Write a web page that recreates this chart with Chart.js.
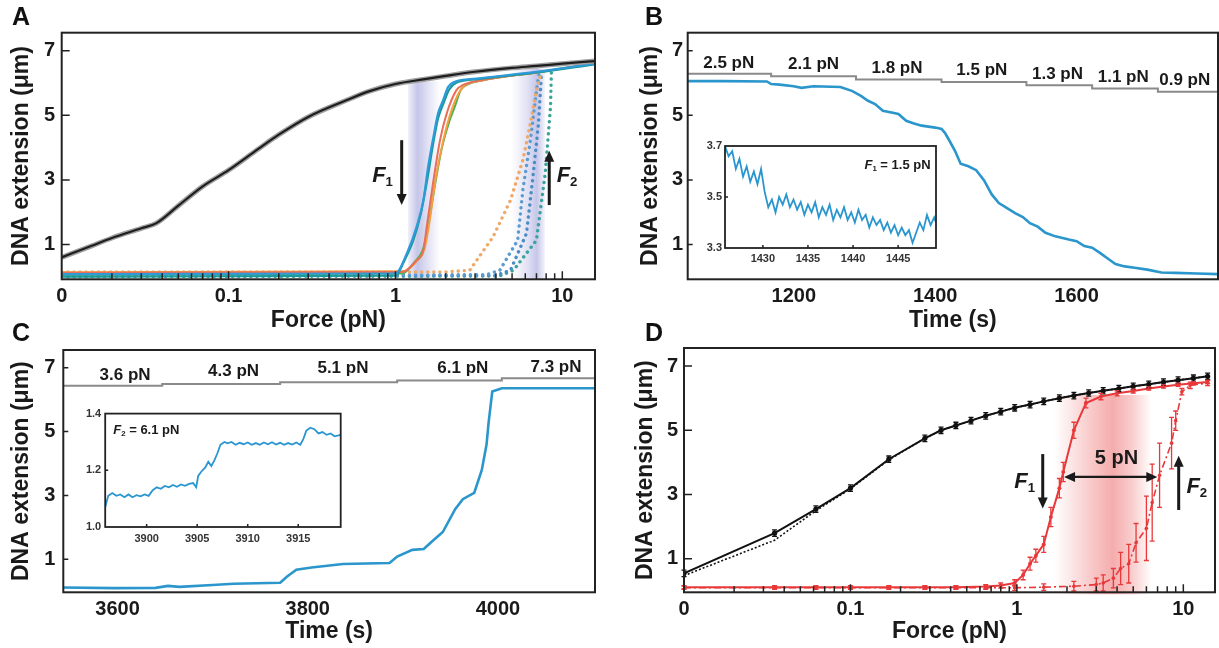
<!DOCTYPE html>
<html>
<head>
<meta charset="utf-8">
<script src="https://cdn.jsdelivr.net/npm/chart.js@4.4.1/dist/chart.umd.min.js"></script>
<style>
body { margin:0; background:#fff; width:1219px; height:648px; position:relative; overflow:hidden; font-family:"Liberation Sans", Arial, sans-serif; }
canvas { position:absolute; }
.tag { position:absolute; font-weight:bold; font-size:25px; line-height:25px; color:#111; }
</style>
</head>
<body>
<canvas id="chartA" style="left:0;top:0" width="610" height="340"></canvas>
<canvas id="chartB" style="left:610px;top:0" width="609" height="340"></canvas>
<canvas id="chartC" style="left:0;top:330px" width="610" height="318"></canvas>
<canvas id="chartD" style="left:610px;top:330px" width="609" height="318"></canvas>
<canvas id="insetB" style="left:698px;top:136px" width="248" height="132"></canvas>
<canvas id="insetC" style="left:75px;top:403px" width="276" height="146"></canvas>
<div class="tag" style="left:12px;top:4px">A</div>
<div class="tag" style="left:645px;top:4px">B</div>
<div class="tag" style="left:12px;top:320px">C</div>
<div class="tag" style="left:645px;top:320px">D</div>
<script>
// ---------- panel A : force-extension, single molecules ----------
const fA_ref = [0.01, 0.015, 0.02, 0.03, 0.037, 0.05, 0.07, 0.1, 0.15, 0.2, 0.3, 0.5, 0.7, 1, 1.5, 2, 3, 5, 7, 10, 15.6];
const zA_ref = [0.6, 0.95, 1.2, 1.5, 1.66, 2.2, 2.8, 3.3, 3.95, 4.4, 4.95, 5.45, 5.75, 5.97, 6.12, 6.22, 6.35, 6.47, 6.53, 6.6, 6.68];

const fA_blue = [0.01, 1.0, 1.17, 1.34, 1.47, 1.57, 1.69, 1.8, 1.93, 2.07, 2.27, 3.07, 7.0, 15.6];
const zA_blue = [0.08, 0.1, 0.72, 1.55, 2.37, 3.41, 4.34, 5.06, 5.47, 5.88, 6.04, 6.14, 6.35, 6.6];
const fA_teal = [0.01, 1.0, 1.12, 1.28, 1.42, 1.55, 1.68, 1.8, 1.95, 2.1, 2.3, 3.1, 7.0, 15.6];
const zA_teal = [0.0, 0.03, 0.45, 1.13, 1.96, 3.0, 4.1, 4.9, 5.4, 5.8, 6.0, 6.12, 6.33, 6.58];
const fA_red = [0.01, 1.1, 1.34, 1.47, 1.54, 1.69, 1.85, 2.03, 2.32, 2.54, 3.2, 7.0, 15.6];
const zA_red = [0.12, 0.15, 0.51, 0.82, 1.55, 2.99, 4.23, 5.06, 5.78, 5.94, 6.08, 6.33, 6.6];
const fA_green = [0.01, 1.1, 1.3, 1.45, 1.55, 1.72, 1.9, 2.1, 2.27, 2.46, 2.7, 3.3, 7.0, 15.6];
const zA_green = [0.06, 0.1, 0.45, 0.8, 1.4, 2.8, 4.0, 4.8, 5.27, 5.78, 5.95, 6.08, 6.33, 6.6];
const fA_orange = [0.01, 1.1, 1.35, 1.5, 1.6, 1.75, 1.95, 2.15, 2.4, 2.6, 3.3, 7.0, 15.6];
const zA_orange = [0.14, 0.17, 0.5, 0.9, 1.7, 3.1, 4.3, 5.1, 5.7, 5.92, 6.08, 6.33, 6.6];

// increasing force (dotted)
const fA_upOrange = [0.01, 2.0, 2.79, 3.85, 4.89, 5.8, 6.44, 7.0, 7.5];
const zA_upOrange = [0.15, 0.15, 0.2, 1.24, 2.37, 3.61, 4.75, 5.78, 6.35];
const fA_upBlue1 = [0.01, 3.5, 4.22, 5.4, 5.8, 6.44, 7.0, 7.3];
const zA_upBlue1 = [0.05, 0.06, 0.2, 1.13, 2.68, 4.23, 5.78, 6.35];
const fA_upBlue2 = [0.01, 4.0, 4.89, 6.1, 6.7, 7.2, 7.5];
const zA_upBlue2 = [0.03, 0.04, 0.2, 1.34, 3.2, 4.75, 6.3];
const fA_upTeal = [0.01, 4.2, 5.1, 7.0, 7.9, 8.5, 8.6];
const zA_upTeal = [0.0, 0.02, 0.2, 1.13, 3.2, 5.27, 6.35];

// ---------- panel B : extension vs time at decreasing force ----------
const tB = [1050, 1100, 1162, 1168, 1180, 1200, 1211, 1228, 1266, 1283, 1295, 1305, 1315, 1326, 1340, 1348, 1359, 1370, 1381, 1400, 1409, 1414, 1420, 1428, 1436, 1447, 1458, 1469, 1480, 1490, 1500, 1513, 1524, 1534, 1545, 1556, 1570, 1589, 1600, 1611, 1622, 1633, 1645, 1655, 1668, 1682, 1700, 1720, 1740, 1770, 1800];
const zB = [6.06, 6.06, 6.05, 5.97, 5.95, 5.9, 5.85, 5.9, 5.88, 5.75, 5.6, 5.45, 5.35, 5.14, 5.08, 5.04, 4.83, 4.75, 4.68, 4.62, 4.58, 4.45, 4.22, 3.9, 3.5, 3.42, 3.3, 2.99, 2.55, 2.28, 2.15, 1.97, 1.85, 1.66, 1.55, 1.36, 1.25, 1.15, 1.1, 0.95, 0.9, 0.74, 0.55, 0.39, 0.32, 0.28, 0.22, 0.13, 0.12, 0.1, 0.08];
const tB_force = [1050, 1168, 1288, 1409, 1529, 1622, 1715, 1800];
const zB_force = [6.29, 6.21, 6.11, 6.03, 5.93, 5.83, 5.73, 5.73];
const forceB_labels = ['2.5 pN', '2.1 pN', '1.8 pN', '1.5 pN', '1.3 pN', '1.1 pN', '0.9 pN'];
const forceB_t = [1108, 1228, 1346, 1466, 1573, 1666, 1753];
const forceB_z = [6.62, 6.57, 6.47, 6.39, 6.28, 6.18, 6.08];

const tB_in = [1425.8, 1426.2, 1426.6, 1427.0, 1427.4, 1427.8, 1428.2, 1428.6, 1429.0, 1429.4, 1429.8, 1430.2, 1430.6, 1431.0, 1431.4, 1431.8, 1432.2, 1432.6, 1433.0, 1433.4, 1433.8, 1434.2, 1434.6, 1435.0, 1435.4, 1435.8, 1436.2, 1436.6, 1437.0, 1437.4, 1437.8, 1438.2, 1438.6, 1439.0, 1439.4, 1439.8, 1440.2, 1440.6, 1441.0, 1441.4, 1441.8, 1442.2, 1442.6, 1443.0, 1443.4, 1443.8, 1444.2, 1444.6, 1445.0, 1445.4, 1445.8, 1446.2, 1446.6, 1447.0, 1447.4, 1447.8, 1448.2, 1448.6, 1449.0, 1449.2];
const zB_in = [3.70, 3.66, 3.68, 3.61, 3.65, 3.58, 3.62, 3.56, 3.60, 3.55, 3.61, 3.52, 3.46, 3.49, 3.44, 3.50, 3.47, 3.51, 3.46, 3.49, 3.45, 3.48, 3.43, 3.47, 3.44, 3.48, 3.42, 3.46, 3.43, 3.47, 3.41, 3.45, 3.42, 3.46, 3.41, 3.44, 3.40, 3.45, 3.41, 3.43, 3.38, 3.42, 3.39, 3.41, 3.37, 3.40, 3.36, 3.39, 3.35, 3.38, 3.35, 3.37, 3.32, 3.36, 3.40, 3.37, 3.43, 3.39, 3.42, 3.40];

// ---------- panel C : extension vs time at increasing force ----------
const tC = [3543, 3596, 3640, 3653, 3665, 3700, 3722, 3771, 3778, 3788, 3804, 3837, 3886, 3894, 3910, 3922, 3930, 3942, 3955, 3963, 3975, 3983, 3988, 3990, 3994, 4004, 4102];
const zC = [0.11, 0.09, 0.1, 0.16, 0.13, 0.19, 0.23, 0.26, 0.45, 0.67, 0.74, 0.85, 0.88, 1.08, 1.29, 1.32, 1.54, 1.85, 2.57, 2.88, 3.08, 3.8, 4.6, 5.24, 6.26, 6.36, 6.36];
const tC_force = [3543, 3647, 3771, 3894, 4004, 4102];
const zC_force = [6.44, 6.49, 6.55, 6.6, 6.67, 6.67];
const forceC_labels = ['3.6 pN', '4.3 pN', '5.1 pN', '6.1 pN', '7.3 pN'];
const forceC_t = [3608, 3722, 3837, 3963, 4061];
const forceC_z = [6.77, 6.88, 6.98, 6.98, 7.03];

const tC_in = [3895.9, 3896.2, 3896.6, 3897.0, 3897.4, 3897.8, 3898.2, 3898.6, 3899.0, 3899.4, 3899.8, 3900.2, 3900.6, 3901.0, 3901.4, 3901.8, 3902.2, 3902.6, 3903.0, 3903.4, 3903.8, 3904.2, 3904.6, 3904.9, 3905.1, 3905.4, 3905.8, 3906.1, 3906.4, 3906.7, 3907.0, 3907.3, 3907.7, 3908.0, 3908.4, 3908.8, 3909.2, 3909.6, 3910.0, 3910.4, 3910.8, 3911.2, 3911.6, 3912.0, 3912.4, 3912.8, 3913.2, 3913.6, 3914.0, 3914.4, 3914.8, 3915.2, 3915.5, 3915.8, 3916.2, 3916.6, 3917.0, 3917.4, 3917.8, 3918.2, 3918.6, 3919.2];
const zC_in = [1.07, 1.11, 1.12, 1.11, 1.115, 1.105, 1.115, 1.105, 1.112, 1.108, 1.115, 1.11, 1.13, 1.14, 1.135, 1.145, 1.14, 1.148, 1.142, 1.15, 1.145, 1.152, 1.155, 1.14, 1.18, 1.195, 1.21, 1.23, 1.215, 1.235, 1.26, 1.29, 1.30, 1.295, 1.30, 1.29, 1.297, 1.292, 1.298, 1.29, 1.296, 1.29, 1.298, 1.292, 1.299, 1.291, 1.297, 1.29, 1.296, 1.291, 1.298, 1.29, 1.31, 1.34, 1.35, 1.345, 1.33, 1.335, 1.325, 1.33, 1.32, 1.325];

// ---------- panel D : averaged force-extension ----------
const fD_bare = [0.01, 0.035, 0.062, 0.1, 0.17, 0.28, 0.35, 0.43, 0.53, 0.65, 0.8, 0.97, 1.2, 1.45, 1.8, 2.2, 2.7, 3.3, 4.1, 5.0, 6.2, 7.6, 9.3, 11.5, 14];
const zD_bareDown = [0.55, 1.8, 2.55, 3.2, 4.1, 4.75, 5.0, 5.15, 5.3, 5.45, 5.58, 5.7, 5.8, 5.9, 6.0, 6.08, 6.16, 6.23, 6.3, 6.37, 6.43, 6.5, 6.56, 6.62, 6.68];
const zD_bareUp = [0.48, 1.58, 2.5, 3.18, 4.08, 4.75, 5.0, 5.15, 5.3, 5.45, 5.58, 5.7, 5.8, 5.9, 6.0, 6.08, 6.16, 6.23, 6.3, 6.37, 6.43, 6.5, 6.56, 6.62, 6.68];
const fD_down = [0.01, 0.035, 0.062, 0.1, 0.17, 0.28, 0.43, 0.65, 0.8, 0.97, 1.09, 1.2, 1.3, 1.45, 1.6, 1.8, 1.9, 2.2, 2.6, 3.2, 4.0, 5.0, 6.2, 7.6, 9.3, 11.5, 14];
const zD_down = [0.12, 0.12, 0.12, 0.12, 0.12, 0.12, 0.12, 0.14, 0.17, 0.25, 0.5, 0.85, 1.1, 1.45, 2.3, 3.2, 3.7, 5.0, 5.85, 6.05, 6.15, 6.22, 6.3, 6.36, 6.42, 6.46, 6.5];
const eD_down = [0.05, 0.05, 0.05, 0.05, 0.05, 0.05, 0.05, 0.06, 0.08, 0.1, 0.15, 0.2, 0.2, 0.25, 0.3, 0.3, 0.3, 0.25, 0.15, 0.1, 0.08, 0.06, 0.05, 0.05, 0.05, 0.05, 0.05];
const fD_up = [0.01, 0.035, 0.062, 0.1, 0.17, 0.28, 0.43, 0.65, 0.97, 1.45, 2.2, 3.0, 3.3, 3.8, 4.2, 4.7, 5.2, 6.0, 6.5, 7.2, 8.5, 9.0, 9.8, 11, 14];
const zD_up = [0.1, 0.1, 0.1, 0.1, 0.1, 0.1, 0.1, 0.1, 0.1, 0.12, 0.15, 0.2, 0.25, 0.4, 0.7, 0.85, 1.5, 1.95, 2.75, 3.6, 4.6, 5.3, 6.2, 6.4, 6.47];
const eD_up = [0.05, 0.05, 0.05, 0.05, 0.05, 0.05, 0.05, 0.05, 0.08, 0.1, 0.15, 0.2, 0.25, 0.3, 0.5, 0.6, 0.6, 1.0, 1.2, 1.0, 0.8, 0.3, 0.1, 0.1, 0.08];

// shared axis ticks
const forceTicks = [0.01, 0.1, 1, 10];
const forceMinor = [0.02, 0.03, 0.04, 0.05, 0.06, 0.07, 0.08, 0.09, 0.2, 0.3, 0.4, 0.5, 0.6, 0.7, 0.8, 0.9, 2, 3, 4, 5, 6, 7, 8, 9];
const extTicks = [1, 3, 5, 7];

const FAM = '"Liberation Sans", Arial, sans-serif';
const INK = '#1a1a1a';

const pts = (xs, ys) => xs.map((v, i) => ({ x: v, y: ys[i] }));
function line(xs, ys, color, width, extra) {
    return Object.assign({ data: pts(xs, ys), borderColor: color, borderWidth: width, pointRadius: 0, fill: false, tension: 0 }, extra || {});
}

// extra drawing for each canvas, looked up by canvas id
const decor = {};

function richText(ctx, it, px, py) {
    const size = it.size;
    const parts = it.parts.map(p => {
        const s = p.sub ? size * 0.6 : size;
        const font = (p.italic ? 'italic ' : '') + 'bold ' + s + 'px ' + FAM;
        ctx.font = font;
        return { t: p.t, font: font, w: ctx.measureText(p.t).width, dy: p.sub ? size * 0.28 : 0 };
    });
    const total = parts.reduce((s, p) => s + p.w, 0);
    let cx = it.align === 'right' ? px - total : it.align === 'left' ? px : px - total / 2;
    ctx.textBaseline = 'middle';
    ctx.textAlign = 'left';
    ctx.fillStyle = it.color || INK;
    parts.forEach(p => { ctx.font = p.font; ctx.fillText(p.t, cx, py + p.dy); cx += p.w; });
}

function head(ctx, x, y, dx, dy, len, half) {
    // filled triangle pointing along (dx,dy)
    ctx.beginPath();
    ctx.moveTo(x, y);
    ctx.lineTo(x - dx * len - dy * half, y - dy * len + dx * half);
    ctx.lineTo(x - dx * len + dy * half, y - dy * len - dx * half);
    ctx.closePath();
    ctx.fill();
}

Chart.register({
    id: 'decor',
    beforeDatasetsDraw(chart) {
        const d = decor[chart.canvas.id];
        if (!d) return;
        const { ctx, chartArea: a, scales: { x, y } } = chart;
        ctx.save();
        if (d.white) {
            ctx.fillStyle = '#fff';
            ctx.fillRect(a.left, a.top, a.right - a.left, a.bottom - a.top);
        }
        (d.bands || []).forEach(b => {
            const x0 = x.getPixelForValue(b.from), x1 = x.getPixelForValue(b.to);
            const y0 = y.getPixelForValue(b.top), y1 = y.getPixelForValue(b.bottom);
            const g = ctx.createLinearGradient(x0, 0, x1, 0);
            b.stops.forEach(s => g.addColorStop(s[0], s[1]));
            ctx.fillStyle = g;
            ctx.fillRect(x0, y0, x1 - x0, y1 - y0);
        });
        ctx.restore();
    },
    afterDatasetsDraw(chart) {
        const d = decor[chart.canvas.id];
        if (!d) return;
        const { ctx, chartArea: a, scales: { x, y } } = chart;
        ctx.save();
        (d.errors || []).forEach(e => {
            ctx.strokeStyle = e.color;
            ctx.lineWidth = 1.3;
            e.xs.forEach((v, i) => {
                const px = x.getPixelForValue(v);
                const lo = y.getPixelForValue(e.ys[i] - e.es[i]), hi = y.getPixelForValue(e.ys[i] + e.es[i]);
                ctx.beginPath();
                ctx.moveTo(px, lo); ctx.lineTo(px, hi);
                ctx.moveTo(px - e.cap, lo); ctx.lineTo(px + e.cap, lo);
                ctx.moveTo(px - e.cap, hi); ctx.lineTo(px + e.cap, hi);
                ctx.stroke();
            });
        });
        (d.arrows || []).forEach(r => {
            ctx.strokeStyle = r.color || INK;
            ctx.fillStyle = r.color || INK;
            ctx.lineWidth = r.width || 3;
            if (r.x !== undefined) {
                const px = x.getPixelForValue(r.x);
                const y0 = y.getPixelForValue(r.from), y1 = y.getPixelForValue(r.to);
                const dir = y1 > y0 ? 1 : -1;
                ctx.beginPath(); ctx.moveTo(px, y0); ctx.lineTo(px, y1 - dir * 8); ctx.stroke();
                head(ctx, px, y1, 0, dir, 11, 5);
            } else {
                const x0 = x.getPixelForValue(r.from), x1 = x.getPixelForValue(r.to);
                const py = y.getPixelForValue(r.y);
                ctx.beginPath(); ctx.moveTo(x0 + 8, py); ctx.lineTo(x1 - 8, py); ctx.stroke();
                head(ctx, x1, py, 1, 0, 11, 5);
                head(ctx, x0, py, -1, 0, 11, 5);
            }
        });
        (d.texts || []).forEach(t => richText(ctx, t, x.getPixelForValue(t.x), y.getPixelForValue(t.y)));
        ctx.restore();
    },
    afterDraw(chart) {
        const d = decor[chart.canvas.id];
        if (!d) return;
        const { ctx, chartArea: a, scales: { x, y } } = chart;
        ctx.save();
        ctx.strokeStyle = d.frameColor || '#222';
        // inward ticks
        ctx.beginPath();
        (d.xMajor || []).forEach(v => { const p = x.getPixelForValue(v); ctx.moveTo(p, a.bottom); ctx.lineTo(p, a.bottom - d.majLen); });
        (d.xMinor || []).forEach(v => { const p = x.getPixelForValue(v); ctx.moveTo(p, a.bottom); ctx.lineTo(p, a.bottom - d.minLen); });
        (d.yMajor || []).forEach(v => { const p = y.getPixelForValue(v); ctx.moveTo(a.left, p); ctx.lineTo(a.left + d.majLen, p); });
        ctx.lineWidth = d.tickWidth || 1.5;
        ctx.stroke();
        ctx.lineWidth = d.frameWidth || 2;
        ctx.strokeRect(a.left, a.top, a.right - a.left, a.bottom - a.top);
        ctx.restore();
    }
});

function panel(id, o) {
    const tickFont = { family: FAM, size: o.tickSize, weight: 'bold' };
    const titleFont = { family: FAM, size: o.titleSize || 23, weight: 'bold' };
    return new Chart(document.getElementById(id), {
        type: 'line',
        data: { datasets: o.datasets },
        options: {
            responsive: false,
            animation: false,
            events: [],
            layout: { padding: { top: o.padTop, right: o.padRight, left: 0, bottom: 0 } },
            plugins: { legend: { display: false }, tooltip: { enabled: false } },
            scales: {
                x: {
                    type: o.xType, min: o.xMin, max: o.xMax,
                    grid: { display: false, drawTicks: false }, border: { display: false },
                    afterBuildTicks: s => { s.ticks = o.xTicks.map(v => ({ value: v })); },
                    afterFit: s => { s.height = o.xH; },
                    ticks: { padding: o.xPad, font: tickFont, color: o.tickColor || INK, autoSkip: false, maxRotation: 0,
                        callback: v => (v === 0.01 ? '0' : String(v)) },
                    title: { display: !!o.xTitle, text: o.xTitle, font: titleFont, color: INK, padding: { top: 0, bottom: o.xTitlePad } }
                },
                y: {
                    type: 'linear', min: o.yMin, max: o.yMax,
                    grid: { display: false, drawTicks: false }, border: { display: false },
                    afterBuildTicks: s => { s.ticks = o.yTicks.map(v => ({ value: v })); },
                    afterFit: s => { s.width = o.yW; },
                    ticks: { padding: o.yPad, font: tickFont, color: o.tickColor || INK, callback: o.yFmt || (v => String(v)) },
                    title: { display: !!o.yTitle, text: o.yTitle, font: titleFont, color: INK, padding: { top: o.yTitlePad, bottom: 0 } }
                }
            }
        }
    });
}

const smooth = { tension: 0.35, cubicInterpolationMode: 'monotone' };
const dots = { borderDash: [0.1, 6], borderCapStyle: 'round' };

// datasets are listed top-most first (Chart.js paints the first one last)

// ---------- A ----------
decor.chartA = {
    bands: [
        { from: 1.19, to: 1.85, top: 6.05, bottom: -0.1, stops: [[0, 'rgba(150,150,215,0.15)'], [0.3, 'rgba(150,150,215,0.55)'], [0.6, 'rgba(150,150,215,0.3)'], [1, 'rgba(150,150,215,0)']] },
        { from: 4.97, to: 7.87, top: 6.45, bottom: -0.1, stops: [[0, 'rgba(150,150,215,0)'], [0.5, 'rgba(150,150,215,0.3)'], [0.75, 'rgba(150,150,215,0.55)'], [1, 'rgba(150,150,215,0.1)']] }
    ],
    arrows: [{ x: 1.09, from: 4.23, to: 2.22 }, { x: 8.35, from: 2.22, to: 3.9 }],
    texts: [
        { x: 0.966, y: 3.12, size: 22, align: 'right', parts: [{ t: 'F', italic: true }, { t: '1', sub: true }] },
        { x: 9.25, y: 3.12, size: 22, align: 'left', parts: [{ t: 'F', italic: true }, { t: '2', sub: true }] }
    ],
    xMajor: [0.1, 1, 10], xMinor: forceMinor, yMajor: extTicks, majLen: 8, minLen: 6
};
panel('chartA', {
    padTop: 32.7, padRight: 15, yW: 61.7, xH: 60.7,
    xType: 'logarithmic', xMin: 0.01, xMax: 15.7, xTicks: forceTicks, xPad: 5,
    yMin: -0.08, yMax: 7.56, yTicks: extTicks, yPad: 6.5,
    tickSize: 20, xTitle: 'Force (pN)', xTitlePad: 6, yTitle: 'DNA extension (μm)', yTitlePad: 8,
    datasets: [
        line(fA_ref, zA_ref, '#1e1e1e', 2.2, smooth),
        line(fA_ref, zA_ref, '#a0a0a0', 5, smooth),
        line(fA_blue, zA_blue, '#2f9ad8', 2.2, smooth),
        line(fA_teal, zA_teal, '#1b9a9a', 2.2, smooth),
        line(fA_red, zA_red, '#e8705a', 2, smooth),
        line(fA_orange, zA_orange, '#f5a040', 2, smooth),
        line(fA_green, zA_green, '#4caf50', 2, smooth),
        line(fA_upOrange, zA_upOrange, '#f0a868', 3.4, dots),
        line(fA_upBlue1, zA_upBlue1, '#5a9bd0', 3.4, dots),
        line(fA_upBlue2, zA_upBlue2, '#4a8cc4', 3.4, dots),
        line(fA_upTeal, zA_upTeal, '#3aa39a', 3.4, dots)
    ]
});

// ---------- B ----------
decor.chartB = {
    texts: forceB_labels.map((s, i) => ({ x: forceB_t[i], y: forceB_z[i], size: 17, parts: [{ t: s }] })),
    yMajor: extTicks, majLen: 5
};
panel('chartB', {
    padTop: 32.7, padRight: 1, yW: 77.7, xH: 60.7,
    xType: 'linear', xMin: 1050, xMax: 1800, xTicks: [1200, 1400, 1600], xPad: 5,
    yMin: -0.08, yMax: 7.56, yTicks: extTicks, yPad: 4.5,
    tickSize: 20, xTitle: 'Time (s)', xTitlePad: 6, yTitle: 'DNA extension (μm)', yTitlePad: 27,
    datasets: [
        line(tB, zB, '#2a96cc', 2.6),
        line(tB_force, zB_force, '#8a8a8a', 2, { stepped: true })
    ]
});
decor.insetB = {
    white: true,
    texts: [{ x: 1448.6, y: 3.625, size: 13, align: 'right', parts: [{ t: 'F', italic: true }, { t: '1', sub: true }, { t: ' = 1.5 pN' }] }],
    xMajor: [1430, 1435, 1440, 1445], yMajor: [3.5], majLen: 3, frameWidth: 1.8
};
panel('insetB', {
    padTop: 10, padRight: 10, yW: 27, xH: 20,
    xType: 'linear', xMin: 1425.8, xMax: 1449.2, xTicks: [1430, 1435, 1440, 1445], xPad: 4,
    yMin: 3.3, yMax: 3.7, yTicks: [3.3, 3.5, 3.7], yPad: 3, yFmt: v => v.toFixed(1),
    tickSize: 11, tickColor: '#333',
    datasets: [line(tB_in, zB_in, '#2a96d0', 1.8)]
});

// ---------- C ----------
decor.chartC = {
    texts: forceC_labels.map((s, i) => ({ x: forceC_t[i], y: forceC_z[i], size: 17, parts: [{ t: s }] })),
    yMajor: extTicks, majLen: 5
};
panel('chartC', {
    padTop: 14, padRight: 15, yW: 63.3, xH: 55.7,
    xType: 'linear', xMin: 3543, xMax: 4102, xTicks: [3600, 3800, 4000], xPad: 5,
    yMin: -0.04, yMax: 7.56, yTicks: extTicks, yPad: 8,
    tickSize: 20, xTitle: 'Time (s)', xTitlePad: 2.5, yTitle: 'DNA extension (μm)', yTitlePad: 8,
    datasets: [
        line(tC, zC, '#2a96cc', 2.6),
        line(tC_force, zC_force, '#8a8a8a', 2, { stepped: true })
    ]
});
decor.insetC = {
    white: true,
    texts: [{ x: 3896.7, y: 1.341, size: 13, align: 'left', parts: [{ t: 'F', italic: true }, { t: '2', sub: true }, { t: ' = 6.1 pN' }] }],
    xMajor: [3900, 3905, 3910, 3915], yMajor: [1.2], majLen: 3, frameWidth: 1.8
};
panel('insetC', {
    padTop: 10.2, padRight: 10.3, yW: 30.2, xH: 22,
    xType: 'linear', xMin: 3895.9, xMax: 3919.2, xTicks: [3900, 3905, 3910, 3915], xPad: 5,
    yMin: 1.0, yMax: 1.4, yTicks: [1.0, 1.2, 1.4], yPad: 4, yFmt: v => v.toFixed(1),
    tickSize: 11, tickColor: '#333',
    datasets: [line(tC_in, zC_in, '#2a96d0', 1.8)]
});

// ---------- D ----------
decor.chartD = {
    bands: [{ from: 1.68, to: 6.44, top: 6.1, bottom: -0.1, stops: [[0, 'rgba(235,90,90,0)'], [0.35, 'rgba(235,90,90,0.3)'], [0.6, 'rgba(235,90,90,0.5)'], [0.8, 'rgba(235,90,90,0.3)'], [1, 'rgba(235,90,90,0)']] }],
    errors: [
        { xs: fD_bare, ys: zD_bareDown, es: fD_bare.map(() => 0.1), color: '#111', cap: 2.5 },
        { xs: fD_down, ys: zD_down, es: eD_down, color: '#e8383a', cap: 2.5 },
        { xs: fD_up, ys: zD_up, es: eD_up, color: '#e8383a', cap: 2.5 }
    ],
    arrows: [
        { x: 1.43, from: 4.26, to: 2.57 },
        { x: 9.38, from: 2.52, to: 4.21 },
        { y: 3.55, from: 1.92, to: 6.98, width: 2.2 }
    ],
    texts: [
        { x: 1.287, y: 3.39, size: 22, align: 'right', parts: [{ t: 'F', italic: true }, { t: '1', sub: true }] },
        { x: 10.44, y: 3.24, size: 22, align: 'left', parts: [{ t: 'F', italic: true }, { t: '2', sub: true }] },
        { x: 3.97, y: 4.11, size: 20, parts: [{ t: '5 pN' }] }
    ],
    xMajor: [0.1, 1, 10], xMinor: forceMinor, yMajor: extTicks, majLen: 8, minLen: 6
};
panel('chartD', {
    padTop: 14, padRight: 2, yW: 74, xH: 55.7,
    xType: 'logarithmic', xMin: 0.01, xMax: 15.5, xTicks: forceTicks, xPad: 5,
    yMin: -0.04, yMax: 7.56, yTicks: extTicks, yPad: 6,
    tickSize: 20, xTitle: 'Force (pN)', xTitlePad: 2.5, yTitle: 'DNA extension (μm)', yTitlePad: 22,
    datasets: [
        line(fD_bare, zD_bareDown, '#111', 2, { pointRadius: 2.6, pointBackgroundColor: '#111', pointBorderWidth: 0 }),
        line(fD_bare, zD_bareUp, '#111', 1.6, { borderDash: [2, 2] }),
        line(fD_down, zD_down, '#e8383a', 2, { pointRadius: 2, pointBackgroundColor: '#e8383a', pointBorderWidth: 0 }),
        line(fD_up, zD_up, '#e8383a', 1.6, { borderDash: [7, 3, 2, 3], pointRadius: 1.8, pointBackgroundColor: '#e8383a', pointBorderWidth: 0 })
    ]
});
</script>
</body>
</html>
